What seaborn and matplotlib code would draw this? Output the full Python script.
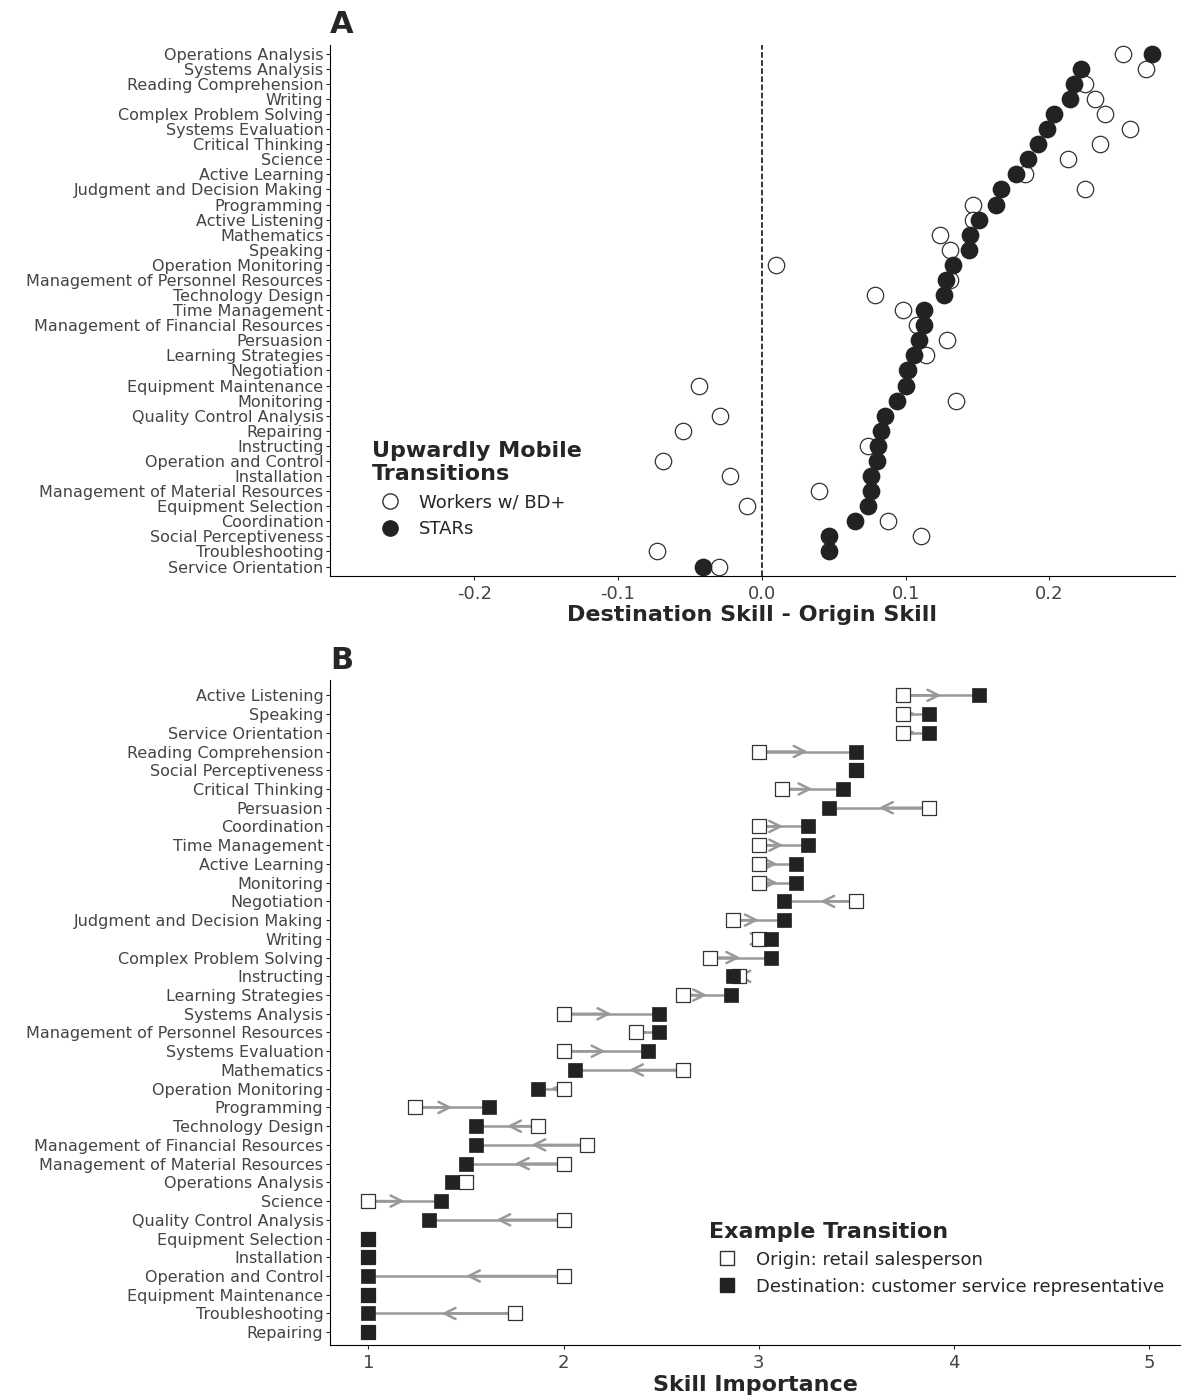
import pandas as pd
import matplotlib.pyplot as plt
import seaborn as sns
from matplotlib.lines import Line2D

sns.set_style("ticks")
plt.rcParams['font.family'] = ['DejaVu Sans']

# Panel A
skills_a = ['Operations Analysis', 'Systems Analysis', 'Reading Comprehension', 'Writing',
            'Complex Problem Solving', 'Systems Evaluation', 'Critical Thinking', 'Science',
            'Active Learning', 'Judgment and Decision Making', 'Programming', 'Active Listening',
            'Mathematics', 'Speaking', 'Operation Monitoring', 'Management of Personnel Resources',
            'Technology Design', 'Time Management', 'Management of Financial Resources', 'Persuasion',
            'Learning Strategies', 'Negotiation', 'Equipment Maintenance', 'Monitoring',
            'Quality Control Analysis', 'Repairing', 'Instructing', 'Operation and Control',
            'Installation', 'Management of Material Resources', 'Equipment Selection', 'Coordination',
            'Social Perceptiveness', 'Troubleshooting', 'Service Orientation']
workers_bd = [0.251, 0.267, 0.225, 0.232, 0.239, 0.256, 0.235, 0.213, 0.183, 0.225, 0.147, 0.147,
              0.124, 0.131, 0.010, 0.131, 0.079, 0.098, 0.108, 0.129, 0.114, 0.101, -0.044, 0.135,
              -0.029, -0.055, 0.074, -0.069, -0.022, 0.040, -0.010, 0.088, 0.111, -0.073, -0.030]
stars = [0.271, 0.222, 0.217, 0.214, 0.203, 0.198, 0.192, 0.185, 0.177, 0.166, 0.163, 0.151,
         0.145, 0.144, 0.133, 0.128, 0.127, 0.113, 0.113, 0.109, 0.106, 0.102, 0.100, 0.094,
         0.086, 0.083, 0.081, 0.080, 0.076, 0.076, 0.074, 0.065, 0.047, 0.047, -0.041]

# Panel B
skills_b = ['Active Listening', 'Speaking', 'Service Orientation', 'Reading Comprehension',
            'Social Perceptiveness', 'Critical Thinking', 'Persuasion', 'Coordination',
            'Time Management', 'Active Learning', 'Monitoring', 'Negotiation',
            'Judgment and Decision Making', 'Writing', 'Complex Problem Solving', 'Instructing',
            'Learning Strategies', 'Systems Analysis', 'Management of Personnel Resources',
            'Systems Evaluation', 'Mathematics', 'Operation Monitoring', 'Programming',
            'Technology Design', 'Management of Financial Resources', 'Management of Material Resources',
            'Operations Analysis', 'Science', 'Quality Control Analysis', 'Equipment Selection',
            'Installation', 'Operation and Control', 'Equipment Maintenance', 'Troubleshooting',
            'Repairing']
origin = [3.74, 3.74, 3.74, 3.0, 3.5, 3.12, 3.87, 3.0, 3.0, 3.0, 3.0, 3.5, 2.87, 3.0, 2.75, 2.9,
          2.61, 2.0, 2.37, 2.0, 2.61, 2.0, 1.24, 1.87, 2.12, 2.0, 1.5, 1.0, 2.0, 1.0, 1.0, 2.0,
          1.0, 1.75, 1.0]
dest = [4.13, 3.87, 3.87, 3.5, 3.5, 3.43, 3.36, 3.25, 3.25, 3.19, 3.19, 3.13, 3.13, 3.06, 3.06,
        2.87, 2.86, 2.49, 2.49, 2.43, 2.06, 1.87, 1.62, 1.55, 1.55, 1.5, 1.43, 1.37, 1.31, 1.0,
        1.0, 1.0, 1.0, 1.0, 1.0]

dark = '#222222'
fig = plt.figure(figsize=(11.84, 13.97), dpi=100)
ax1 = fig.add_axes([0.279, 0.588, 0.713, 0.38])
ax2 = fig.add_axes([0.279, 0.037, 0.718, 0.476])

# ---- A
df_a = pd.DataFrame({'skill': skills_a, 'bd': workers_bd, 'stars': stars})
df_a['y'] = range(len(df_a))
ax1.axvline(0, color='black', ls='--', lw=1.1)
sns.scatterplot(data=df_a, x='bd', y='y', ax=ax1, s=140, facecolor='white',
                edgecolor='#333333', linewidth=0.9, zorder=3)
sns.scatterplot(data=df_a, x='stars', y='y', ax=ax1, s=140, color=dark,
                edgecolor=dark, zorder=4)
ax1.set_yticks(df_a['y'])
ax1.set_yticklabels(skills_a)
ax1.set_ylim(len(df_a) - 0.4, -0.6)
ax1.set_xlim(-0.30, 0.287)
ax1.set_xticks([-0.2, -0.1, 0.0, 0.1, 0.2])
ax1.set_xticklabels(['-0.2', '-0.1', '0.0', '0.1', '0.2'])
ax1.set_xlabel('Destination Skill - Origin Skill', fontsize=16, fontweight='bold', labelpad=2)
ax1.set_ylabel('')
h_a = [Line2D([], [], marker='o', ls='', markerfacecolor='white', markeredgecolor='#333333', markersize=11),
       Line2D([], [], marker='o', ls='', color=dark, markersize=11)]
leg = ax1.legend(h_a, ['Workers w/ BD+', 'STARs'], title='Upwardly Mobile\nTransitions',
                 loc='lower left', bbox_to_anchor=(0.03, 0.04), frameon=False, fontsize=13,
                 title_fontproperties={'weight': 'bold', 'size': 16}, handletextpad=0.6)
leg._legend_box.align = 'left'
fig.text(0.279, 0.972, 'A', fontsize=22, fontweight='bold', ha='left', va='bottom')

# ---- B
df_b = pd.DataFrame({'skill': skills_b, 'origin': origin, 'dest': dest})
df_b['y'] = range(len(df_b))
grey = '#999999'
for _, r in df_b.iterrows():
    if abs(r['dest'] - r['origin']) > 0.01:
        ax2.plot([r['origin'], r['dest']], [r['y'], r['y']], color=grey, lw=1.8, zorder=1)
        mid = (r['origin'] + r['dest']) / 2
        ax2.annotate('', xy=(mid, r['y']), xytext=(r['origin'], r['y']),
                     arrowprops=dict(arrowstyle='->', color=grey, lw=1.8,
                                     mutation_scale=20, shrinkA=0, shrinkB=0), zorder=1)
sns.scatterplot(data=df_b, x='origin', y='y', ax=ax2, marker='s', s=100, facecolor='white',
                edgecolor='#333333', linewidth=0.9, zorder=3)
sns.scatterplot(data=df_b, x='dest', y='y', ax=ax2, marker='s', s=100, color=dark,
                edgecolor=dark, linewidth=0.5, zorder=4)
ax2.set_yticks(df_b['y'])
ax2.set_yticklabels(skills_b)
ax2.set_ylim(len(df_b) - 0.3, -0.8)
ax2.set_xlim(0.805, 5.16)
ax2.set_xticks([1, 2, 3, 4, 5])
ax2.set_xlabel('Skill Importance', fontsize=16, fontweight='bold', labelpad=2)
ax2.set_ylabel('')
h_b = [Line2D([], [], marker='s', ls='', markerfacecolor='white', markeredgecolor='#333333', markersize=10),
       Line2D([], [], marker='s', ls='', color=dark, markersize=10)]
leg2 = ax2.legend(h_b, ['Origin: retail salesperson', 'Destination: customer service representative'],
                  title='Example Transition', loc='lower right', bbox_to_anchor=(1.0, 0.05),
                  frameon=False, fontsize=13, title_fontproperties={'weight': 'bold', 'size': 16},
                  handletextpad=0.6)
leg2._legend_box.align = 'left'
fig.text(0.279, 0.517, 'B', fontsize=22, fontweight='bold', ha='left', va='bottom')

for ax in (ax1, ax2):
    sns.despine(ax=ax)
    ax.tick_params(axis='y', labelsize=11.5, labelcolor='#444444', length=3, pad=2)
    ax.tick_params(axis='x', labelsize=13, labelcolor='#444444', length=3)
    for sp in ax.spines.values():
        sp.set_color('black')

plt.savefig("out.png", dpi=100)
